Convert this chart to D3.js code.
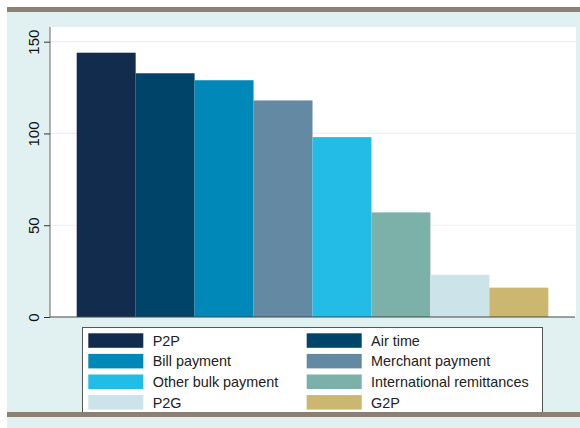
<!DOCTYPE html>
<html><head><meta charset="utf-8">
<script src="https://cdn.jsdelivr.net/npm/d3@7"></script>
<style>html,body{margin:0;padding:0;background:#fff;}svg{display:block;}</style>
</head><body>
<script>
const categories = ["P2P","Air time","Bill payment","Merchant payment","Other bulk payment","International remittances","P2G","G2P"];
const values = [144, 132.8, 129, 118, 98, 57, 23, 16];
const colors = ["#122c4e","#01446a","#0088b9","#6489a3","#23bce7","#7bb1a9","#cde3ea","#cbb76f"];
const yTicks = [0, 50, 100, 150];

const W = 580, H = 428;
const svg = d3.select("body").append("svg").attr("width", W).attr("height", H);
svg.append("rect").attr("x",7).attr("y",0).attr("width",W-7).attr("height",H).attr("fill","#e1f0f0");
svg.append("rect").attr("x",0).attr("y",0).attr("width",W).attr("height",7).attr("fill","#fff");

const plot = {l:50, r:576, t:27, b:317};
svg.append("rect").attr("x",plot.l).attr("y",plot.t).attr("width",plot.r-plot.l).attr("height",plot.b-plot.t).attr("fill","#fff");

const y = d3.scaleLinear().domain([0,150]).range([plot.b, 41.7]);
const x = d3.scaleBand().domain(categories).range([76.7, 548.3]).padding(0);

// gridlines
svg.append("g").selectAll("line").data(yTicks.filter(d=>d>0)).join("line")
  .attr("x1",plot.l).attr("x2",plot.r).attr("y1",d=>y(d)).attr("y2",d=>y(d))
  .attr("stroke","#e6f1f3").attr("stroke-width",1.2);

// bars
svg.append("g").selectAll("rect").data(categories).join("rect")
  .attr("x",d=>x(d)).attr("width",x.bandwidth())
  .attr("y",(d,i)=>y(values[i])).attr("height",(d,i)=>plot.b-y(values[i]))
  .attr("fill",(d,i)=>colors[i]);

// y axis
const yAxis = d3.axisLeft(y).tickValues(yTicks).tickSize(6).tickPadding(4);
const ga = svg.append("g").attr("transform",`translate(${plot.l},0)`).call(yAxis);
ga.select(".domain").attr("d",`M0,${plot.t}V${plot.b}`).attr("stroke","#666");
ga.selectAll(".tick line").attr("stroke","#333");
ga.selectAll(".tick text").attr("transform","rotate(-90)")
  .attr("x",0).attr("y",-11.5).attr("dy","0").attr("text-anchor","middle")
  .attr("font-family","Liberation Sans, Arial, sans-serif").attr("font-size",15).attr("fill","#111");
// x baseline
svg.append("line").attr("x1",plot.l).attr("x2",plot.r-1).attr("y1",plot.b).attr("y2",plot.b).attr("stroke","#444").attr("stroke-width",1);

// legend
const lg = svg.append("g");
lg.append("rect").attr("x",82.5).attr("y",327.5).attr("width",460).attr("height",95).attr("fill","#fff").attr("stroke","#555");
const cols = [88.3, 306.7];
categories.forEach((c,i)=>{
  const col = i%2, row = Math.floor(i/2);
  const yy = 333.3 + row*20.6;
  lg.append("rect").attr("x",cols[col]).attr("y",yy).attr("width",55).attr("height",14.5).attr("fill",colors[i]);
  lg.append("text").attr("x",cols[col]+64.4).attr("y",yy+12.5).text(c)
    .attr("font-family","Liberation Sans, Arial, sans-serif").attr("font-size",14.4).attr("fill","#222");
});

// brown bars
svg.append("rect").attr("x",7).attr("y",7).attr("width",W-7).attr("height",5).attr("fill","#8c7f74");
svg.append("rect").attr("x",7).attr("y",412).attr("width",W-7).attr("height",5).attr("fill","#8c7f74");
svg.append("rect").attr("x",7).attr("y",417).attr("width",W-7).attr("height",11).attr("fill","#e1f0f0");
</script>
</body></html>
